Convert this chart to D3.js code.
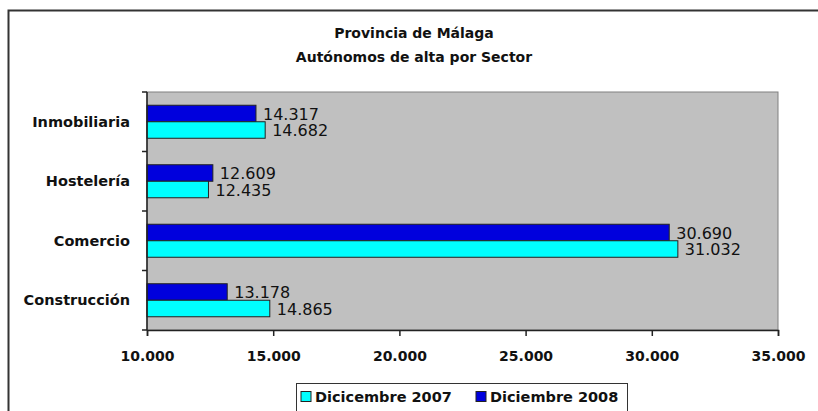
<!DOCTYPE html>
<html>
<head>
<meta charset="utf-8">
<script src="https://cdn.jsdelivr.net/npm/d3@7"></script>
<style>
  body { margin: 0; background: #fff; }
  svg { display: block; font-family: "DejaVu Sans", sans-serif; }
</style>
</head>
<body>
<svg id="chart" width="818" height="411"></svg>
<script>
'use strict'
// datos
var sectores = ["Inmobiliaria", "Hostelería", "Comercio", "Construcción"];
var dic2007 = [14682, 12435, 31032, 14865];
var dic2008 = [14317, 12609, 30690, 13178];
var series = ["Dicicembre 2007", "Diciembre 2008"];
var ticksX = [10000, 15000, 20000, 25000, 30000, 35000];

var svg = d3.select("#chart");
var plot = { left: 147, top: 92, right: 778, bottom: 330 };

//marco exterior (solo se ven lado izquierdo y superior)
svg.append("rect")
    .attr("x", 8.5).attr("y", 10.5)
    .attr("width", 840).attr("height", 440)
    .attr("fill", "#fff")
    .attr("stroke", "#333")
    .attr("stroke-width", 2);

//titulo
var title = svg.append("text")
    .attr("text-anchor", "middle")
    .attr("font-size", 14)
    .attr("font-weight", 700)
    .attr("fill", "#111");
title.append("tspan").attr("x", 414).attr("y", 38).text("Provincia de Málaga");
title.append("tspan").attr("x", 414).attr("y", 62).text("Autónomos de alta por Sector");

var x = d3.scaleLinear().domain([10000, 35000]).range([plot.left, plot.right]);
var y = d3.scaleBand().domain(sectores).range([plot.top, plot.bottom]).paddingInner(0.445).paddingOuter(0.2225);

//fondo gris del area
svg.append("rect")
    .attr("x", plot.left).attr("y", plot.top)
    .attr("width", plot.right - plot.left).attr("height", plot.bottom - plot.top)
    .attr("fill", "#c0c0c0")
    .attr("stroke", "#808080")
    .attr("stroke-width", 1);

var fmt = d3.formatLocale({ decimal: ",", thousands: ".", grouping: [3] }).format(",d");

var g = svg.append("g");
var bh = y.bandwidth() / 2;
sectores.forEach(function (s, i) {
    // 2008 arriba, 2007 abajo
    var rows = [
        { v: dic2008[i], c: "#0000dd", off: 0 },
        { v: dic2007[i], c: "#00ffff", off: bh }
    ];
    rows.forEach(function (r) {
        g.append("rect")
            .attr("x", x(10000))
            .attr("y", y(s) + r.off)
            .attr("width", x(r.v) - x(10000))
            .attr("height", bh)
            .attr("fill", r.c)
            .attr("stroke", "#222")
            .attr("stroke-width", 1);
        g.append("text")
            .attr("x", x(r.v) + 7)
            .attr("y", y(s) + r.off + bh / 2)
            .attr("dy", "0.38em")
            .attr("font-size", 16)
            .attr("fill", "#111")
            .text(fmt(r.v));
    });
});

//eje x
var xAxis = svg.append("g")
    .attr("transform", "translate(0," + plot.bottom + ")")
    .call(d3.axisBottom(x).tickValues(ticksX).tickSize(6).tickPadding(15).tickFormat(fmt));
xAxis.select(".domain").attr("stroke", "#222").attr("stroke-width", 1.5);
xAxis.selectAll(".tick line").attr("stroke", "#222").attr("stroke-width", 1.5);
xAxis.selectAll("text")
    .attr("font-family", "DejaVu Sans, sans-serif")
    .attr("font-size", 14).attr("font-weight", 700).attr("fill", "#111");

//eje y: lineas en limites de categoria
var bounds = d3.range(sectores.length + 1).map(function (i) {
    return plot.top + i * (plot.bottom - plot.top) / sectores.length;
});
svg.append("line")
    .attr("x1", plot.left).attr("x2", plot.left)
    .attr("y1", plot.top).attr("y2", plot.bottom)
    .attr("stroke", "#222").attr("stroke-width", 1.5);
svg.selectAll(".ytick").data(bounds).enter().append("line")
    .attr("x1", plot.left - 5).attr("x2", plot.left)
    .attr("y1", function (d) { return d; }).attr("y2", function (d) { return d; })
    .attr("stroke", "#222").attr("stroke-width", 1.5);
svg.selectAll(".ylab").data(sectores).enter().append("text")
    .attr("x", plot.left - 17)
    .attr("y", function (d) { return y(d) + y.bandwidth() / 2; })
    .attr("dy", "0.36em")
    .attr("text-anchor", "end")
    .attr("font-size", 14.5)
    .attr("font-weight", 700)
    .attr("fill", "#111")
    .text(function (d) { return d; });

//leyenda
var leg = svg.append("g").attr("transform", "translate(296,383)");
leg.append("rect").attr("x", 0.5).attr("y", 0.5).attr("width", 331).attr("height", 40)
    .attr("fill", "#fff").attr("stroke", "#333").attr("stroke-width", 1);
var legColors = ["#00ffff", "#0000dd"];
var legX = [5, 180];
series.forEach(function (s, i) {
    leg.append("rect").attr("x", legX[i]).attr("y", 8.5).attr("width", 10).attr("height", 10)
        .attr("fill", legColors[i]).attr("stroke", "#222");
    leg.append("text").attr("x", legX[i] + 14).attr("y", 19)
        .attr("font-size", 14.5).attr("font-weight", 700).attr("fill", "#111")
        .text(s);
});
</script>
</body>
</html>
